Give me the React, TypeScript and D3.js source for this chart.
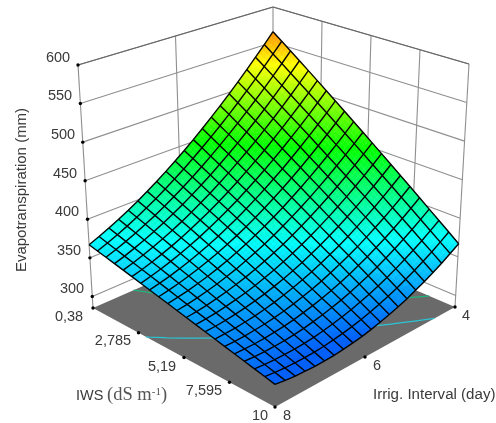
import React from "react";
import * as d3 from "d3";

const W = 496, H = 423;

// Tick values
const zTicks = [300, 350, 400, 450, 500, 550, 600];
const zTickLabels = ["300", "350", "400", "450", "500", "550", "600"];
const iwsTicks = ["0,38", "2,785", "5,19", "7,595", "10"];
const intervalTicks = ["4", "6", "8"];
const contourLevels = [351, 395];
const contourColors = ["#2cc4d4", "#1fb47c"];

// Evapotranspiration: rows = irrigation interval 4..8 (21 steps), columns = IWS 0.38..10 (21 steps)
const et: number[][] = [
  [565,555.1,545.2,535.3,525.4,515.5,505.6,495.7,485.8,475.9,466,456.1,446.2,436.3,426.4,416.5,406.6,396.7,386.8,376.9,367],
  [550.5,541,531.5,521.9,512.4,502.8,493.3,483.7,474.2,464.6,455.1,445.6,436,426.5,416.9,407.4,397.8,388.3,378.8,369.2,359.7],
  [536.6,527.4,518.2,509,499.8,490.6,481.4,472.2,463,453.9,444.7,435.5,426.3,417.1,407.9,398.7,389.5,380.3,371.1,361.9,352.8],
  [523.1,514.2,505.4,496.6,487.7,478.9,470.1,461.3,452.4,443.6,434.8,425.9,417.1,408.3,399.4,390.6,381.8,373,364.1,355.3,346.5],
  [510,501.6,493.1,484.6,476.2,467.7,459.2,450.8,442.3,433.8,425.3,416.9,408.4,399.9,391.5,383,374.5,366.1,357.6,349.1,340.6],
  [497.5,489.4,481.3,473.2,465.1,457,448.8,440.7,432.6,424.5,416.4,408.3,400.2,392.1,384,375.9,367.7,359.6,351.5,343.4,335.3],
  [485.4,477.7,469.9,462.2,454.4,446.6,438.9,431.1,423.4,415.6,407.8,400.1,392.3,384.6,376.8,369,361.3,353.5,345.8,338,330.2],
  [473.9,466.5,459.1,451.7,444.3,436.9,429.5,422.1,414.7,407.3,399.9,392.5,385.1,377.7,370.3,362.9,355.5,348.1,340.7,333.3,325.9],
  [462.8,455.7,448.7,441.6,434.6,427.6,420.5,413.5,406.4,399.4,392.4,385.3,378.3,371.2,364.2,357.2,350.1,343.1,336,329,322],
  [452.1,445.5,438.8,432.1,425.4,418.7,412.1,405.4,398.7,392,385.3,378.7,372,365.3,358.6,351.9,345.3,338.6,331.9,325.2,318.5],
  [442,435.7,429.3,423,416.7,410.4,404,397.7,391.4,385,378.7,372.4,366,359.7,353.4,347,340.7,334.4,328.1,321.7,315.4],
  [432.3,426.4,420.4,414.4,408.5,402.5,396.5,390.5,384.6,378.6,372.6,366.7,360.7,354.7,348.8,342.8,336.8,330.9,324.9,318.9,312.9],
  [423.2,417.6,411.9,406.3,400.7,395.1,389.5,383.9,378.3,372.7,367.1,361.5,355.8,350.2,344.6,339,333.4,327.8,322.2,316.6,311],
  [414.5,409.2,404,398.7,393.5,388.2,383,377.7,372.5,367.2,362,356.7,351.5,346.2,341,335.7,330.5,325.2,320,314.7,309.5],
  [406.2,401.3,396.4,391.5,386.6,381.7,376.8,371.9,367,362.1,357.2,352.3,347.4,342.5,337.6,332.7,327.8,322.9,318,313.1,308.2],
  [398.5,394,389.4,384.9,380.3,375.8,371.3,366.7,362.2,357.6,353.1,348.6,344,339.5,334.9,330.4,325.9,321.3,316.8,312.2,307.7],
  [391.2,387.1,382.9,378.7,374.5,370.3,366.2,362,357.8,353.6,349.4,345.3,341.1,336.9,332.7,328.5,324.4,320.2,316,311.8,307.6],
  [384.5,380.6,376.8,373,369.2,365.4,361.5,357.7,353.9,350.1,346.3,342.4,338.6,334.8,331,327.2,323.3,319.5,315.7,311.9,308.1],
  [378.2,374.7,371.2,367.8,364.3,360.8,357.3,353.9,350.4,346.9,343.5,340,336.5,333,329.6,326.1,322.6,319.2,315.7,312.2,308.8],
  [372.3,369.2,366.1,363,359.9,356.8,353.7,350.6,347.5,344.4,341.2,338.1,335,331.9,328.8,325.7,322.6,319.5,316.4,313.3,310.1],
  [367,364.3,361.5,358.8,356,353.3,350.5,347.8,345,342.3,339.5,336.8,334,331.3,328.5,325.8,323,320.3,317.5,314.8,312],
];

const Z_MIN = 285, Z_MAX = 600;
const N = et.length - 1;

// Floor corners on screen: s = IWS fraction, i = interval fraction
const D = [273, 229], C = [455, 307], B = [275, 407], A = [93, 308];
const Dtop = [273, 7], Ctop = [469, 64], Btop = [275, 143], Atop = [78, 65];

const dx1 = C[0] - B[0], dy1 = C[1] - B[1], dx2 = A[0] - B[0], dy2 = A[1] - B[1];
const sx = D[0] - C[0] + B[0] - A[0], sy = D[1] - C[1] + B[1] - A[1];
const den = dx1 * dy2 - dx2 * dy1;
const g = (sx * dy2 - dx2 * sy) / den, h = (dx1 * sy - sx * dy1) / den;
const zFrac = d3.scaleLinear().domain([Z_MIN, Z_MAX]).range([0, 1]);

const corner = (P: number[], k: number, s: number, i: number, Q: number[], R: number[], T: number[]) =>
  (1 - s) * (1 - i) * P[k] + s * (1 - i) * Q[k] + s * i * R[k] + (1 - s) * i * T[k];

// Walls, ticks and floor contours are evenly spaced in the reference
function frame(s: number, i: number, z: number): [number, number] {
  const t = zFrac(z);
  const mix = (k: number) => {
    const lo = corner(D, k, s, i, C, B, A);
    const hi = corner(Dtop, k, s, i, Ctop, Btop, Atop);
    return lo + (hi - lo) * t;
  };
  return [mix(0), mix(1)];
}

// The mesh has perspective in its plan view, lifted by the frame's height
function project(s: number, i: number, z: number): [number, number] {
  const w = g * s + h * i + 1;
  const X = ((C[0] - D[0] + g * C[0]) * s + (A[0] - D[0] + h * A[0]) * i + D[0]) / w;
  const Y = ((C[1] - D[1] + g * C[1]) * s + (A[1] - D[1] + h * A[1]) * i + D[1]) / w;
  const t = zFrac(z);
  const up = (k: number) => corner(Dtop, k, s, i, Ctop, Btop, Atop) - corner(D, k, s, i, C, B, A);
  return [X + up(0) * t, Y + up(1) * t];
}

const color = d3
  .scaleLinear<string>()
  .domain([312, 372, 411, 450, 490, 530, 609])
  .range(["#0060ff", "#00ffff", "#00ff80", "#00ff00", "#80ff00", "#ffff00", "#ff0000"])
  .clamp(true);

const line = d3.line<[number, number]>();
const grid = d3.range(N + 1);
const frac = (k: number) => k / N;

function wallPath(a: [number, number], b: [number, number]) {
  return line([a, b]) as string;
}

const SUB = 3;
function bilinear(k: number, j: number, u: number, v: number) {
  const k1 = Math.min(k + 1, N), j1 = Math.min(j + 1, N);
  return (
    et[k][j] * (1 - u) * (1 - v) + et[k][j1] * u * (1 - v) + et[k1][j] * (1 - u) * v + et[k1][j1] * u * v
  );
}
const surfPt = (k: number, j: number, u: number, v: number) =>
  project((j + u) / N, (k + v) / N, bilinear(k, j, u, v));

const patches: { d: string; c: string }[] = [];
for (let k = 0; k < N; k++)
  for (let j = 0; j < N; j++)
    for (let a = 0; a < SUB; a++)
      for (let b = 0; b < SUB; b++) {
        const u0 = a / SUB, u1 = (a + 1) / SUB, v0 = b / SUB, v1 = (b + 1) / SUB;
        patches.push({
          d: (line([surfPt(k, j, u0, v0), surfPt(k, j, u1, v0), surfPt(k, j, u1, v1), surfPt(k, j, u0, v1)]) as string) + "Z",
          c: color(bilinear(k, j, (u0 + u1) / 2, (v0 + v1) / 2)),
        });
      }

// Floor contours, from the same table
const contourGen = d3.contours().size([N + 1, N + 1]).thresholds(contourLevels);
const contourPaths = contourGen(et.flat()).map((mp) => {
  let d = "";
  mp.coordinates.forEach((poly) =>
    poly.forEach((ring) => {
      let run: [number, number][] = [];
      const flush = () => {
        if (run.length > 1) d += line(run);
        run = [];
      };
      ring.forEach(([x, y]) => {
        if (x > 0 && x < N + 1 && y > 0 && y < N + 1) {
          const cx = Math.min(N, Math.max(0, x - 0.5)), cy = Math.min(N, Math.max(0, y - 0.5));
          run.push(frame(cx / N, cy / N, Z_MIN));
        } else flush();
      });
      flush();
    })
  );
  return d;
});

const floorPath = (line([[...D], [...C], [...B], [...A]] as [number, number][]) as string) + "Z";

const wallStroke = "#8f8f8f";
const textFill = "#3a3a3a";
const sans = "Liberation Sans, Arial, sans-serif";

const zLabelPos = [[72, 288], [69, 250], [67, 211], [65, 173], [63, 134], [60, 95], [58, 57]];
const iwsLabelPos = [[69, 316], [113, 340], [162, 366], [204, 390], [260, 415]];
const intLabelPos = [[466, 315], [377, 365], [287, 415]];

export default function App() {
  return (
    <svg width={W} height={H} style={{ position: "absolute", left: 0, top: 0, background: "#fff" }}>
      <defs>
        <filter id="soft" filterUnits="userSpaceOnUse" x="0" y="0" width={W} height={H}>
          <feGaussianBlur stdDeviation="0.4" />
        </filter>
      </defs>
      <g filter="url(#soft)">
        {/* floor */}
        <path d={floorPath} fill="#6a6a6a" />
        {contourPaths.map((d, n) => (
          <path key={n} d={d} fill="none" stroke={contourColors[n]} strokeWidth={1.3} />
        ))}

        {/* back walls */}
        <g fill="none" stroke={wallStroke} strokeWidth={1.1}>
          {zTicks.map((z) => (
            <g key={z}>
              <path d={wallPath(frame(0, 1, z), frame(0, 0, z))} />
              <path d={wallPath(frame(0, 0, z), frame(1, 0, z))} />
            </g>
          ))}
          {[0, 0.5, 1].map((i) => (
            <path key={i} d={wallPath(frame(0, i, Z_MIN), frame(0, i, Z_MAX))} />
          ))}
          {[0.25, 0.5, 0.75, 1].map((s) => (
            <path key={s} d={wallPath(frame(s, 0, Z_MIN), frame(s, 0, Z_MAX))} />
          ))}
          <path d={wallPath(frame(0, 1, Z_MAX), frame(0, 0, Z_MAX))} stroke="#666" />
          <path d={wallPath(frame(0, 0, Z_MAX), frame(1, 0, Z_MAX))} stroke="#666" />
        </g>

        {/* surface */}
        {patches.map((p, n) => (
          <path key={n} d={p.d} fill={p.c} stroke={p.c} strokeWidth={0.4} />
        ))}
        <g fill="none" stroke="#050505" strokeWidth={1.4}>
          {grid.map((k) => (
            <path key={"r" + k} d={line(grid.map((j) => project(frac(j), frac(k), et[k][j]))) as string} />
          ))}
          {grid.map((j) => (
            <path key={"c" + j} d={line(grid.map((k) => project(frac(j), frac(k), et[k][j]))) as string} />
          ))}
        </g>

        {/* tick dots */}
        <g fill="#000">
          {zTicks.map((z) => {
            const [x, y] = frame(0, 1, z);
            return <circle key={z} cx={x} cy={y} r={1.7} />;
          })}
          {[0, 0.25, 0.5, 0.75, 1].map((s) => {
            const [x, y] = frame(s, 1, Z_MIN);
            return <circle key={s} cx={x} cy={y} r={1.7} />;
          })}
          {[0, 0.5].map((i) => {
            const [x, y] = frame(1, i, Z_MIN);
            return <circle key={i} cx={x} cy={y} r={1.7} />;
          })}
        </g>

        {/* labels */}
        <g fontFamily={sans} fontSize={14.5} fill={textFill} textAnchor="middle" dominantBaseline="central">
          {zTickLabels.map((t, n) => (
            <text key={t} x={zLabelPos[n][0]} y={zLabelPos[n][1]}>{t}</text>
          ))}
          {iwsTicks.map((t, n) => (
            <text key={t} x={iwsLabelPos[n][0]} y={iwsLabelPos[n][1]}>{t}</text>
          ))}
          {intervalTicks.map((t, n) => (
            <text key={t} x={intLabelPos[n][0]} y={intLabelPos[n][1]}>{t}</text>
          ))}
        </g>
        <text
          transform="translate(20,190) rotate(-90)"
          fontFamily={sans}
          fontSize={15}
          fill={textFill}
          textAnchor="middle"
          dominantBaseline="central"
        >
          Evapotranspiration (mm)
        </text>
        <text x={76} y={400} fontFamily={sans} fontSize={14.5} fill={textFill}>IWS</text>
        <text x={107} y={400} fontFamily="Liberation Serif, serif" fontSize={18.5} fill="#555">
          (dS m<tspan dy={-5} fontSize={11}>-1</tspan><tspan dy={5}>)</tspan>
        </text>
        <text x={373} y={399} fontFamily={sans} fontSize={15.1} fill={textFill}>Irrig. Interval (day)</text>
      </g>
    </svg>
  );
}
